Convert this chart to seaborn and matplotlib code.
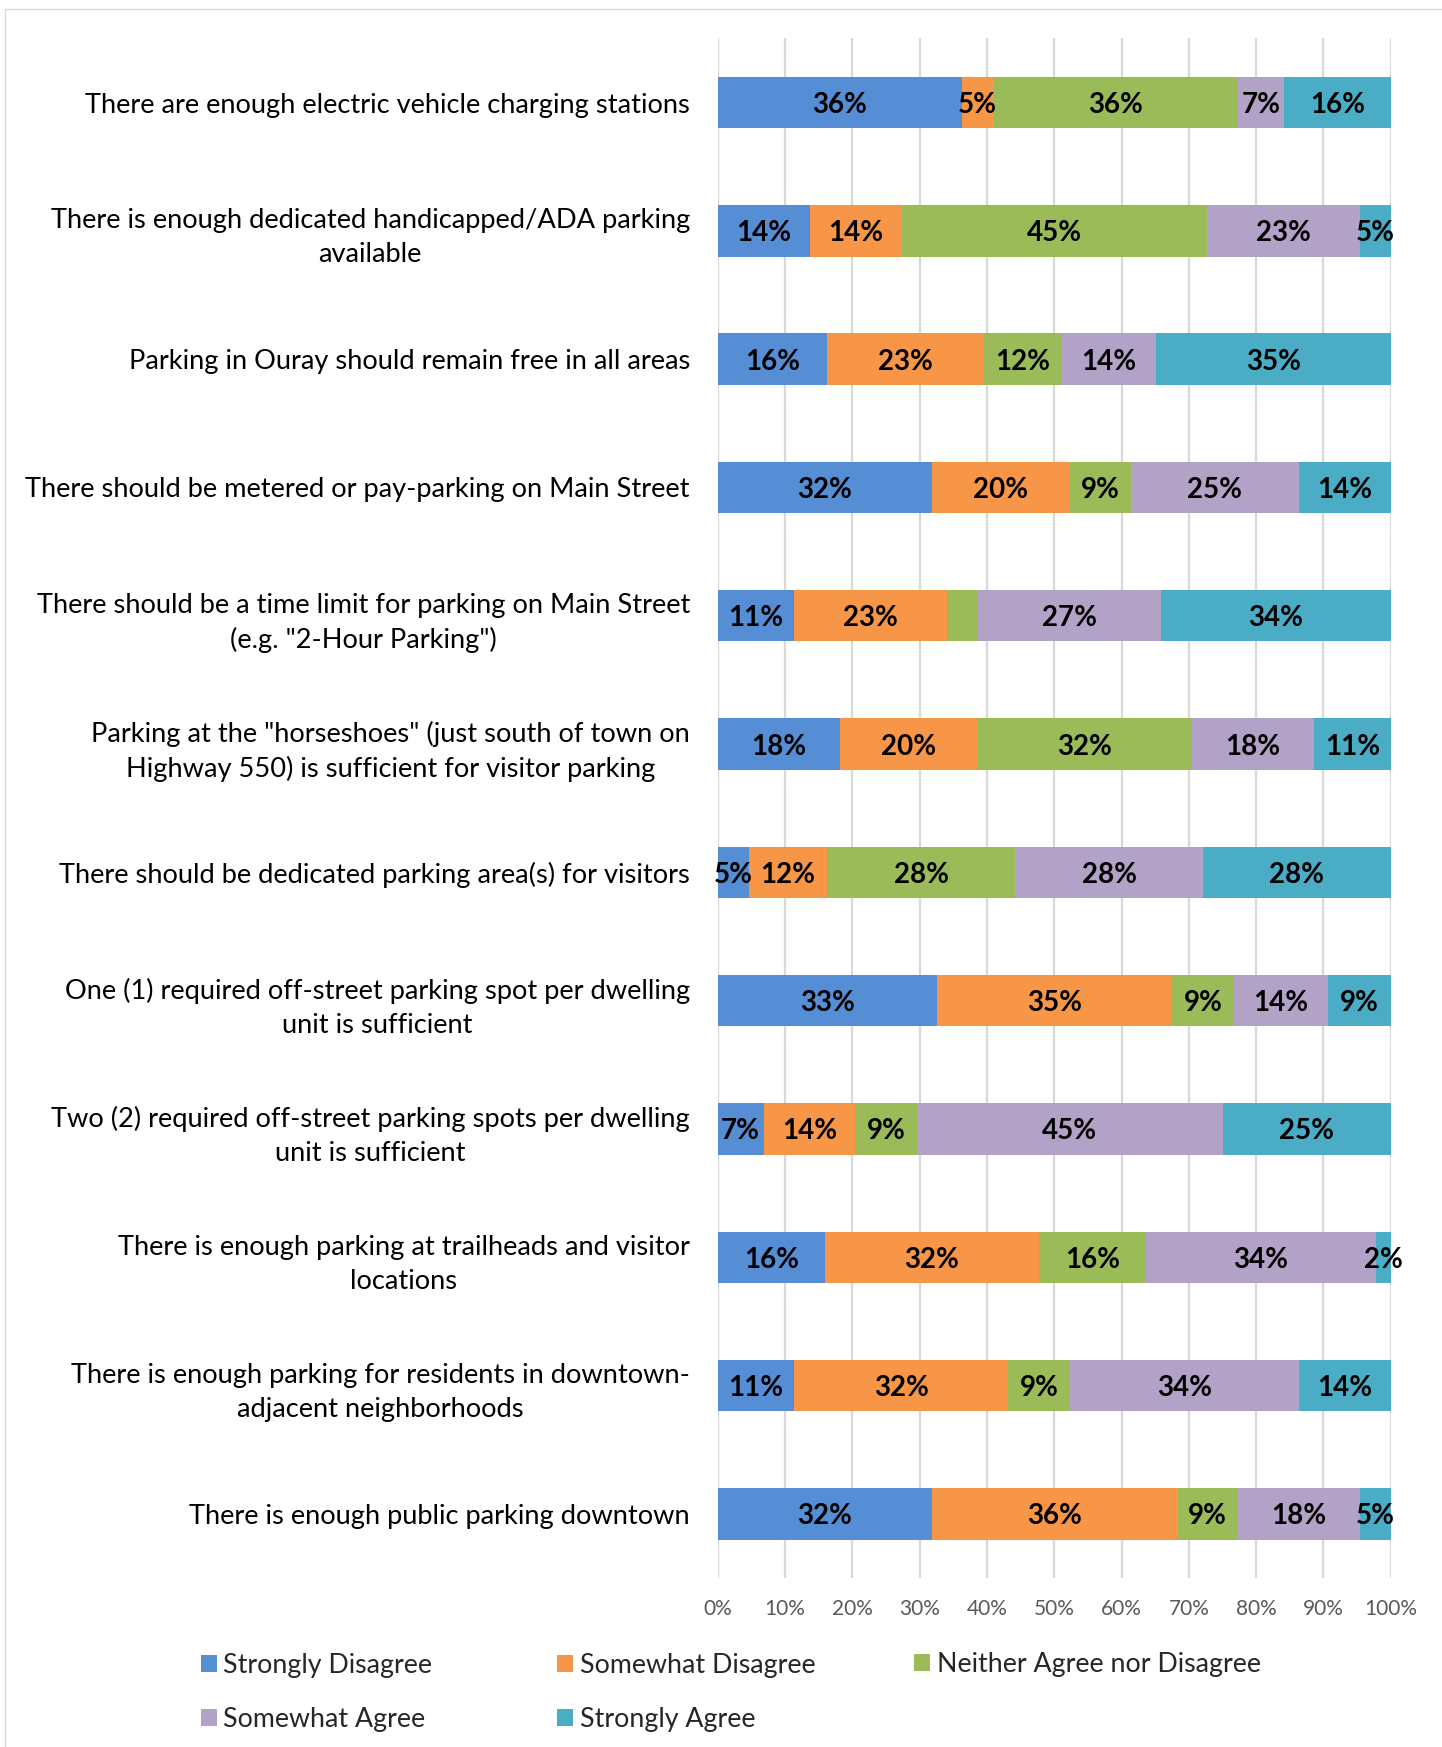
import math
import matplotlib
matplotlib.use("Agg")
import matplotlib.pyplot as plt
from matplotlib.patches import Patch
from matplotlib.lines import Line2D
import pandas as pd
import seaborn as sns

# Survey statements, top to bottom
statements = [
    "There are enough electric vehicle charging stations",
    "There is enough dedicated handicapped/ADA parking\navailable",
    "Parking in Ouray should remain free in all areas",
    "There should be metered or pay-parking on Main Street",
    "There should be a time limit for parking on Main Street\n(e.g. \"2-Hour Parking\")",
    "Parking at the \"horseshoes\" (just south of town on\nHighway 550) is sufficient for visitor parking",
    "There should be dedicated parking area(s) for visitors",
    "One (1) required off-street parking spot per dwelling\nunit is sufficient",
    "Two (2) required off-street parking spots per dwelling\nunit is sufficient",
    "There is enough parking at trailheads and visitor\nlocations",
    "There is enough parking for residents in downtown-\nadjacent neighborhoods",
    "There is enough public parking downtown",
]

# Share of responses (%) per statement
strongly_disagree = [36.36, 13.64, 16.28, 31.82, 11.36, 18.18, 4.65, 32.56, 6.82, 15.91, 11.36, 31.82]
somewhat_disagree = [4.55, 13.64, 23.26, 20.45, 22.73, 20.45, 11.63, 34.88, 13.64, 31.82, 31.82, 36.36]
neither = [36.36, 45.45, 11.63, 9.09, 4.55, 31.82, 27.91, 9.30, 9.09, 15.91, 9.09, 9.09]
somewhat_agree = [6.82, 22.73, 13.95, 25.00, 27.27, 18.18, 27.91, 13.95, 45.45, 34.09, 34.09, 18.18]
strongly_agree = [15.91, 4.55, 34.88, 13.64, 34.09, 11.36, 27.91, 9.30, 25.00, 2.27, 13.64, 4.55]

responses = ["Strongly Disagree", "Somewhat Disagree", "Neither Agree nor Disagree",
             "Somewhat Agree", "Strongly Agree"]
colors = ["#558ED5", "#F79646", "#9BBB59", "#B3A2C7", "#4BACC6"]
x_ticks = [0, 10, 20, 30, 40, 50, 60, 70, 80, 90, 100]

# Segments drawn without a value label: (statement index, response index)
unlabeled = [(4, 2)]

sns.set_style("white")
plt.rcParams["font.family"] = ["Lato", "DejaVu Sans"]

df = pd.DataFrame(
    {
        responses[0]: strongly_disagree,
        responses[1]: somewhat_disagree,
        responses[2]: neither,
        responses[3]: somewhat_agree,
        responses[4]: strongly_agree,
    },
    index=statements,
)
cum = df.cumsum(axis=1)

W, H = 1442, 1747
fig = plt.figure(figsize=(W / 100, H / 100), dpi=100)
ax = fig.add_axes([717.7 / W, 1 - 1578 / H, (1390.8 - 717.7) / W, (1578 - 38.4) / H])

# Stacked bars: draw cumulative totals from the right-most response inward
for i in reversed(range(len(responses))):
    part = pd.DataFrame({"statement": statements, "value": cum.iloc[:, i].values})
    sns.barplot(data=part, x="value", y="statement", orient="h", color=colors[i],
                width=0.4, saturation=1, linewidth=0, errorbar=None, ax=ax)

# Value labels centred on each segment
for r in range(len(statements)):
    for i in range(len(responses)):
        if (r, i) in unlabeled:
            continue
        v = df.iloc[r, i]
        center = cum.iloc[r, i] - v / 2
        ax.text(center, r, f"{math.floor(v + 0.5)}%", ha="center", va="center_baseline",
                fontsize=20, fontweight="bold", color="black")

ax.set_xlim(0, 100)
ax.set_ylim(len(statements) - 0.5, -0.5)
ax.set_xticks(x_ticks)
ax.set_xticklabels([f"{t}%" for t in x_ticks])
ax.set_xlabel("")
ax.set_ylabel("")
ax.xaxis.grid(True, color="#D9D9D9", linewidth=1.6)
ax.yaxis.grid(False)
ax.set_axisbelow(True)
for s in ax.spines.values():
    s.set_visible(False)
ax.tick_params(axis="y", length=0, pad=20, labelsize=19.6, labelcolor="black")
ax.tick_params(axis="x", length=0, pad=15, labelsize=15, labelcolor="#595959")
for t in ax.get_yticklabels():
    t.set_multialignment("center")
    t.set_linespacing(1.45)

# Chart frame (top and left edges)
fig.add_artist(Line2D([5 / W, 1], [1 - 9 / H, 1 - 9 / H], transform=fig.transFigure,
                      color="#D9D9D9", linewidth=1))
fig.add_artist(Line2D([5 / W, 5 / W], [0, 1 - 9 / H], transform=fig.transFigure,
                      color="#D9D9D9", linewidth=1))

# Legend laid out in rows of three
handles = [Patch(facecolor=c, edgecolor="none") for c in colors]
legend_cols = [
    ([0, 3], 200.6, (1667 + 1718) / 2),
    ([1, 4], 557.0, (1667 + 1718) / 2),
    ([2], 914.0, 1664.5),
]
for idx, x_px, y_px in legend_cols:
    fig.legend(handles=[handles[k] for k in idx], labels=[responses[k] for k in idx],
               loc="center left", bbox_to_anchor=(x_px / W, 1 - y_px / H),
               frameon=False, fontsize=19.3, handlelength=0.6, handleheight=0.6,
               handletextpad=0.25, labelspacing=1.1, borderpad=0, borderaxespad=0)

fig.savefig("out.png", dpi=100)
